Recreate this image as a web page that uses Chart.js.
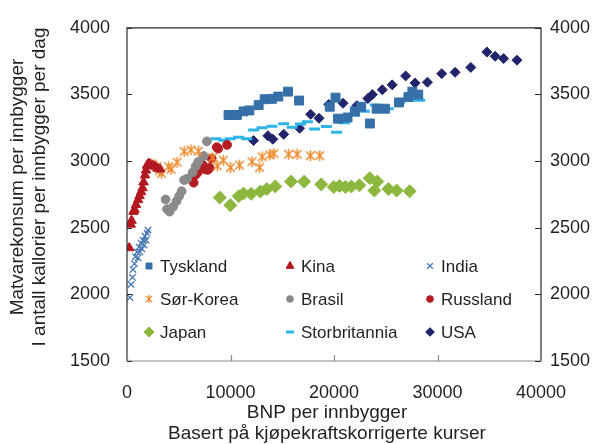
<!DOCTYPE html>
<html><head><meta charset="utf-8">
<script src="https://cdn.jsdelivr.net/npm/chart.js@4.4.1/dist/chart.umd.min.js"></script>
<style>html,body{margin:0;padding:0;background:#fff}canvas{display:block}</style>
</head><body>
<canvas id="c" width="602" height="444"></canvas>
<script>
const xTicks=[0,10000,20000,30000,40000];
const yTicks=[1500,2000,2500,3000,3500,4000];
const xTitle=['BNP per innbygger','Basert på kjøpekraftskorrigerte kurser'];
const yTitle=['Matvarekonsum per innbygger','I antall kallorier per innbygger per dag'];

const tysklandX=[9810,10620,11260,11820,12720,13300,14010,14620,15560,16630,19590,20150,20390,21310,22010,22630,23470,24120,24920,26280,27190,27570,28140];
const tysklandY=[3346,3346,3373,3380,3420,3464,3467,3484,3521,3454,3408,3476,3318,3327,3373,3408,3282,3393,3393,3440,3480,3521,3499];
const kinaX=[220,360,440,630,730,870,1070,1210,1360,1500,1600,1740,1840,1940,2080,2230,2470,2710,2950,3200];
const kinaY=[2348,2525,2554,2621,2636,2672,2709,2739,2768,2798,2842,2894,2931,2967,2982,2975,2967,2960,2945,2938];
const indiaX=[290,390,530,580,730,820,970,1070,1160,1260,1360,1450,1550,1650,1740,1840,1940,2030];
const indiaY=[1976,2075,2127,2186,2230,2282,2318,2274,2355,2318,2385,2341,2407,2370,2436,2407,2459,2481];
const koreaX=[2390,2910,3130,3340,4020,4260,4840,5520,6180,6900,8280,8720,9300,10000,10880,12080,12810,13050,13800,14190,15620,16440,17720,18620];
const koreaY=[2979,2960,2927,2908,2958,2938,2992,3071,3085,3074,3026,2964,3006,2951,2970,2995,2951,3032,3047,3056,3051,3051,3041,3041];
const brasilX=[3730,3870,4120,4460,4790,5040,5280,5520,5810,6340,6630,6880,7410,7720];
const brasilY=[2712,2639,2621,2658,2700,2737,2774,2857,2868,2916,2960,2993,3038,3148];
const russlandX=[6300,6440,6490,6680,6830,7330,7550,7800,7990,8180,8670,8810,9670];
const russlandY=[2861,2838,2890,2901,2916,2970,2938,2934,2949,3019,3104,3093,3122];
const japanX=[8960,9980,10800,11260,11990,12880,13510,14330,15850,17120,18770,19980,20530,21110,21680,22450,23460,24180,23900,25260,26050,27310];
const japanY=[2726,2669,2737,2757,2754,2771,2790,2810,2846,2846,2825,2805,2813,2805,2809,2818,2872,2846,2779,2790,2779,2774];
const ukX=[8590,9350,9980,10790,11570,12230,13050,14000,15140,15960,16760,17430,18130,19270,20240,21000,21990,22930,23990,25250,26340,27230,28280];
const ukY=[3167,3156,3167,3178,3168,3233,3251,3262,3281,3253,3279,3296,3240,3260,3216,3288,3344,3373,3420,3393,3437,3456,3456];
const usaX=[12230,13610,14090,15140,16680,17740,18550,19500,20870,22210,23270,23700,24670,25620,26920,27830,29030,30410,31700,33220,34770,35570,36390,37680];
const usaY=[3154,3190,3164,3201,3246,3351,3321,3425,3434,3416,3469,3499,3535,3572,3639,3585,3592,3656,3666,3703,3818,3786,3769,3757];

const FONT='"Liberation Sans", Arial, sans-serif', TXT='#231f20';
const pts=(xs,ys)=>xs.map((x,i)=>({x,y:ys[i]}));

// asterisk marker (X with vertical bar)
function star(size,lw,col){
  const c=document.createElement('canvas');c.width=c.height=size;
  const g=c.getContext('2d'),h=size/2,r=h-1;g.strokeStyle=col;g.lineWidth=lw;g.beginPath();
  g.moveTo(h,h-r);g.lineTo(h,h+r);
  const d=r*0.78;g.moveTo(h-d,h-d);g.lineTo(h+d,h+d);g.moveTo(h-d,h+d);g.lineTo(h+d,h-d);g.stroke();
  return c;
}
const koreaCol='#ee8a2c';
const series=[
 {label:'Tyskland',x:tysklandX,y:tysklandY,col:'#3670a8',style:'rect',r:6.3,lr:4.2,bw:1},
 {label:'Kina',x:kinaX,y:kinaY,col:'#b3171f',style:'triangle',r:5.5,lr:4.5,bw:1},
 {label:'India',x:indiaX,y:indiaY,col:'#4677b2',style:'crossRot',r:4.5,lr:4,bw:1.3},
 {label:'Sør-Korea',x:koreaX,y:koreaY,col:koreaCol,style:star(13,1.5,koreaCol),lstyle:star(10,1.3,koreaCol),r:6,lr:4,bw:1},
 {label:'Brasil',x:brasilX,y:brasilY,col:'#8a8a8a',style:'circle',r:4.4,lr:3.3,bw:1},
 {label:'Russland',x:russlandX,y:russlandY,col:'#b51d25',style:'circle',r:4.4,lr:3.3,bw:1},
 {label:'Japan',x:japanX,y:japanY,col:'#8db83f',style:'rectRot',r:6.5,lr:5,bw:1},
 {label:'Storbritannia',x:ukX,y:ukY,col:'#2db5e8',style:'line',r:5.5,lr:4,bw:3},
 {label:'USA',x:usaX,y:usaY,col:'#21246a',style:'rectRot',r:5,lr:4.3,bw:1}
];

const deco={
 id:'deco',
 afterDraw(ch){
  const ctx=ch.ctx,a=ch.chartArea,sx=ch.scales.x,sy=ch.scales.y;
  ctx.save();
  // frame
  ctx.lineWidth=1.2;ctx.strokeStyle='#2a2a2a';
  ctx.beginPath();ctx.moveTo(a.left,a.bottom);ctx.lineTo(a.left,a.top);ctx.lineTo(a.right,a.top);ctx.lineTo(a.right,a.bottom);ctx.stroke();
  ctx.strokeStyle='#8c8c8c';ctx.beginPath();ctx.moveTo(a.left,a.bottom);ctx.lineTo(a.right,a.bottom);ctx.stroke();
  // inward ticks
  ctx.strokeStyle='#2a2a2a';ctx.beginPath();
  yTicks.forEach(v=>{const p=Math.round(sy.getPixelForValue(v))+0.5;ctx.moveTo(a.left,p);ctx.lineTo(a.left+5,p);ctx.moveTo(a.right,p);ctx.lineTo(a.right-6,p);});
  ctx.stroke();
  ctx.strokeStyle='#8c8c8c';ctx.beginPath();
  xTicks.forEach(v=>{const p=Math.round(sx.getPixelForValue(v))+0.5;ctx.moveTo(p,a.bottom);ctx.lineTo(p,a.bottom-6);});
  ctx.stroke();
  // titles
  ctx.fillStyle=TXT;ctx.font='19px '+FONT;ctx.textAlign='center';ctx.textBaseline='middle';
  ctx.fillText(xTitle[0],327,413);ctx.fillText(xTitle[1],327,434);
  ctx.save();ctx.translate(18,187);ctx.rotate(-Math.PI/2);ctx.fillText(yTitle[0],0,0);ctx.restore();
  ctx.save();ctx.translate(40,187);ctx.rotate(-Math.PI/2);ctx.fillText(yTitle[1],0,0);ctx.restore();
  // legend
  const colsX=[149,290,430],rowsY=[266,299,332];
  ctx.font='17px '+FONT;ctx.textAlign='left';
  series.forEach((s,i)=>{
    const cx=colsX[i%3],cy=rowsY[Math.floor(i/3)];
    ctx.fillStyle=s.col;ctx.strokeStyle=s.col;ctx.lineWidth=s.bw;
    Chart.helpers.drawPoint(ctx,{pointStyle:s.lstyle||s.style,radius:s.lr,rotation:0,borderWidth:s.style==='line'?2.5:s.bw},cx,cy);
    if(s.style!=='line'&&s.style!=='crossRot'&&typeof s.style==='string'){ctx.fill();}
    ctx.fillStyle=TXT;ctx.fillText(s.label,cx+11,cy+1);
  });
  ctx.restore();
 }
};

new Chart(document.getElementById('c'),{
 type:'scatter',
 data:{datasets:series.map(s=>({label:s.label,data:pts(s.x,s.y),pointStyle:s.style,pointRadius:s.r,pointHoverRadius:s.r,
   backgroundColor:s.col,borderColor:s.col,pointBorderWidth:s.bw,showLine:false}))},
 options:{
  responsive:false,animation:false,events:[],
  layout:{padding:{top:22,left:0,right:0,bottom:0}},
  plugins:{legend:{display:false},tooltip:{enabled:false}},
  scales:{
   x:{type:'linear',min:0,max:40000,afterFit:s=>{s.height=83},
      afterBuildTicks:s=>{s.ticks=xTicks.map(v=>({value:v}))},
      grid:{display:false,drawTicks:false},border:{display:false},
      ticks:{padding:21,color:TXT,font:{size:18,family:FONT},maxRotation:0,callback:v=>String(v)}},
   y:{type:'linear',position:'left',min:1500,max:4000,afterFit:s=>{s.width=127},
      afterBuildTicks:s=>{s.ticks=yTicks.map(v=>({value:v}))},
      grid:{display:false,drawTicks:false},border:{display:false},
      ticks:{padding:17,color:TXT,font:{size:18,family:FONT},callback:v=>String(v)}},
   y2:{type:'linear',position:'right',min:1500,max:4000,afterFit:s=>{s.width=61},
      afterBuildTicks:s=>{s.ticks=yTicks.map(v=>({value:v}))},
      grid:{display:false,drawTicks:false},border:{display:false},
      ticks:{padding:9,color:TXT,font:{size:18,family:FONT},callback:v=>String(v)}}
  }
 },
 plugins:[deco]
});
</script>
</body></html>
